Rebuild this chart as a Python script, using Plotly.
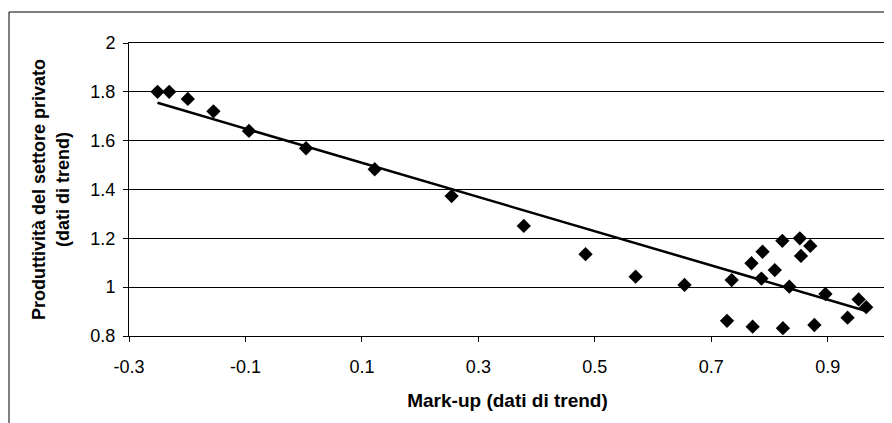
import numpy as np
import plotly.graph_objects as go

# Data (Mark-up vs Produttività, dati di trend)
markup = [-0.251, -0.231, -0.199, -0.155, -0.094, 0.004, 0.122, 0.254, 0.378,
          0.484, 0.570, 0.654, 0.727, 0.735, 0.769, 0.771, 0.788, 0.786,
          0.809, 0.822, 0.823, 0.834, 0.852, 0.854, 0.870, 0.877, 0.896,
          0.934, 0.953, 0.966]
produttivita = [1.800, 1.800, 1.771, 1.720, 1.640, 1.569, 1.483, 1.373, 1.251,
                1.135, 1.043, 1.009, 0.862, 1.029, 1.098, 0.838, 1.145, 1.035,
                1.070, 1.190, 0.832, 1.002, 1.200, 1.128, 1.169, 0.845, 0.972,
                0.875, 0.950, 0.918]

x_ticks = [-0.3, -0.1, 0.1, 0.3, 0.5, 0.7, 0.9]
y_ticks = [0.8, 1.0, 1.2, 1.4, 1.6, 1.8, 2.0]
y_tick_labels = ["0.8", "1", "1.2", "1.4", "1.6", "1.8", "2"]

# Linear trend line (least squares) over the data range
slope, intercept = np.polyfit(markup, produttivita, 1)
trend_x = [min(markup), max(markup)]
trend_y = [intercept + slope * v for v in trend_x]

fig = go.Figure()
fig.add_trace(go.Scatter(
    x=markup, y=produttivita, mode="markers",
    marker=dict(symbol="diamond", size=11, color="black"),
    showlegend=False))
fig.add_trace(go.Scatter(
    x=trend_x, y=trend_y, mode="lines",
    line=dict(color="black", width=2.5),
    showlegend=False))

font = "Liberation Sans, Arial, sans-serif"
fig.update_layout(
    width=884, height=415,
    margin=dict(l=121, r=6, t=35, b=87),
    paper_bgcolor="white", plot_bgcolor="white",
    font=dict(family=font, size=18, color="black"),
    xaxis=dict(
        range=[-0.3, 1.0], tickvals=x_ticks, ticktext=[str(v) for v in x_ticks],
        showgrid=False, zeroline=False,
        showline=True, linecolor="black", linewidth=1, mirror=True,
        ticks="outside", ticklen=5, tickcolor="black", ticklabelstandoff=9,
        title=dict(text="<b>Mark-up (dati di trend)</b>", standoff=18,
                   font=dict(size=19)),
    ),
    yaxis=dict(
        range=[0.8, 2.0], tickvals=y_ticks, ticktext=y_tick_labels,
        showgrid=True, gridcolor="black", gridwidth=1, zeroline=False,
        showline=True, linecolor="black", linewidth=1, mirror=True,
        ticks="outside", ticklen=5, tickcolor="black", ticklabelstandoff=4,
        title=dict(text="<b>Produttività del settore privato<br>(dati di trend)</b>",
                   standoff=16, font=dict(size=18)),
    ),
    shapes=[dict(type="rect", xref="paper", yref="paper",
                 x0=-0.1585, x1=1.03, y0=-0.35, y1=1.1058,
                 line=dict(color="black", width=1), layer="below")],
)

fig.write_html("out.html")
